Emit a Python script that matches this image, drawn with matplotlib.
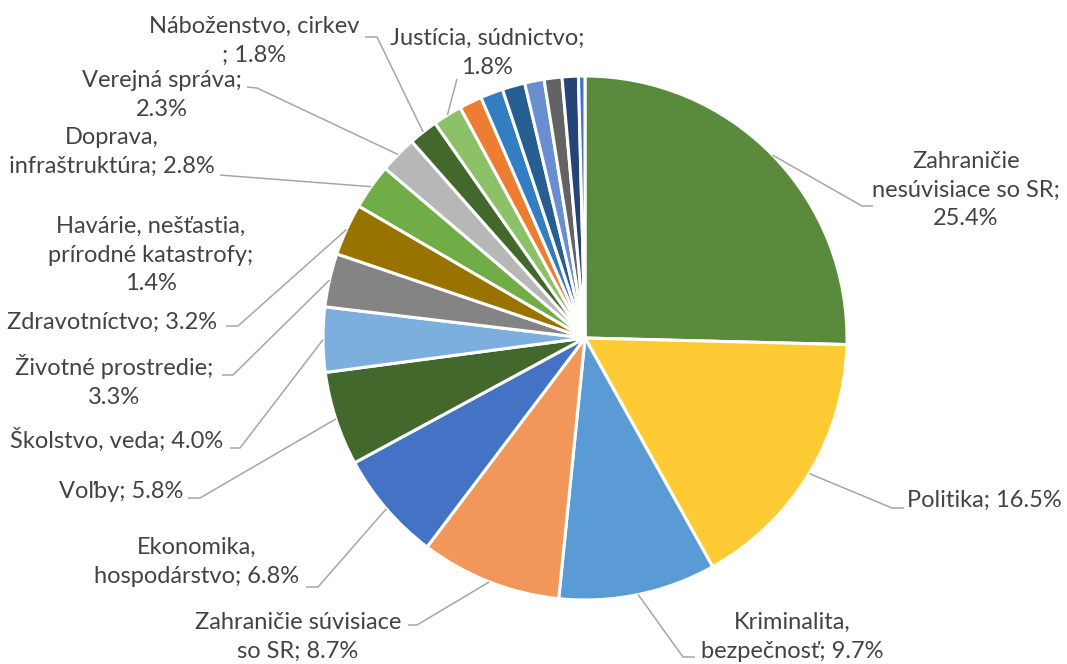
import matplotlib
matplotlib.use("Agg")
import matplotlib.pyplot as plt
import numpy as np

# slice order: clockwise from 12 o'clock
categories = ["Zahraničie nesúvisiace so SR", "Politika", "Kriminalita, bezpečnosť",
              "Zahraničie súvisiace so SR", "Ekonomika, hospodárstvo", "Voľby",
              "Školstvo, veda", "Životné prostredie", "Zdravotníctvo",
              "Doprava, infraštruktúra", "Verejná správa", "Náboženstvo, cirkev",
              "Justícia, súdnictvo", "Havárie, nešťastia, prírodné katastrofy",
              "", "", "", "", "", ""]
values = [25.4, 16.5, 9.7, 8.7, 6.8, 5.8, 4.0, 3.3, 3.2, 2.8, 2.3, 1.8, 1.8, 1.4,
          1.4, 1.4, 1.2, 1.1, 1.0, 0.4]
# how each data label is wrapped ({} = percentage)
label_fmt = ["Zahraničie\nnesúvisiace so SR;\n{}", "Politika; {}",
             "Kriminalita,\nbezpečnosť; {}", "Zahraničie súvisiace\nso SR; {}",
             "Ekonomika,\nhospodárstvo; {}", "Voľby; {}", "Školstvo, veda; {}",
             "Životné prostredie;\n{}", "Zdravotníctvo; {}",
             "Doprava,\ninfraštruktúra; {}", "Verejná správa;\n{}",
             "Náboženstvo, cirkev\n; {}", "Justícia, súdnictvo;\n{}",
             "Havárie, nešťastia,\nprírodné katastrofy;\n{}"]
colors = ["#5A8A3C", "#FFCB34", "#5B9BD5", "#F1975A", "#4472C4", "#43682B",
          "#7CAFDD", "#848484", "#997300", "#70AD47", "#B7B7B7", "#43682B",
          "#8CC168", "#ED7D31", "#337EC2", "#255E91", "#698ED0", "#636363",
          "#264478", "#4472C4"]

W, H = 1067, 664
fig = plt.figure(figsize=(W / 100, H / 100), dpi=100)
ax = fig.add_axes([0, 0, 1, 1])

cx, cy, R = 585, H - 338, 262
wedges, _ = ax.pie(values, colors=colors, startangle=90, counterclock=False,
                   center=(cx, cy), radius=R,
                   wedgeprops=dict(edgecolor="white", linewidth=2.2))
ax.set_xlim(0, W)
ax.set_ylim(0, H)
ax.set_aspect("equal")
ax.axis("off")

# label layout in image pixels: text anchor, alignment, leader elbow, leader stub end
layout = {
    0: ((966, 190), "center", (862, 206), (873, 206)),
    1: ((907, 500), "left", (892, 508), (904, 508)),
    2: ((792, 637), "center", (683, 657), (695, 657)),
    3: ((298, 637), "center", (417, 625), (408, 625)),
    4: ((197, 562), "center", (318, 587), (306, 587)),
    5: ((121, 491), "center", (200, 498), (188, 498)),
    6: ((117, 440), "center", (240, 448), (230, 448)),
    7: ((114, 381), "center", (233, 375), (222, 375)),
    8: ((112, 322), "center", (238, 326), (226, 326)),
    9: ((112, 152), "center", (232, 176), (220, 175)),
    10: ((162, 95), "center", (257, 88), (247, 87)),
    11: ((254, 41), "center", (377, 37), (365, 37)),
    12: ((487, 53), "center", (457, 79), (457, 79)),
    13: ((151, 255), "center", None, None),
}

txt_color = "#434343"
line_color = "#A6A6A6"
for i, (pos, ha, elbow, stub) in layout.items():
    label = label_fmt[i].format(f"{values[i]:.1f}%")
    ax.text(pos[0], H - pos[1], label, ha=ha, va="center", multialignment="center",
            fontsize=17, color=txt_color, family=["Lato", "DejaVu Sans"],
            fontweight="normal", linespacing=1.47)
    if elbow is None:
        continue
    w = wedges[i]
    mid = np.deg2rad((w.theta1 + w.theta2) / 2)
    x0, y0 = cx + R * np.cos(mid), cy + R * np.sin(mid)
    ax.plot([x0, elbow[0], stub[0]], [y0, H - elbow[1], H - stub[1]],
            color=line_color, lw=1.1, solid_capstyle="butt")

fig.savefig("out.png", dpi=100, facecolor="white")
